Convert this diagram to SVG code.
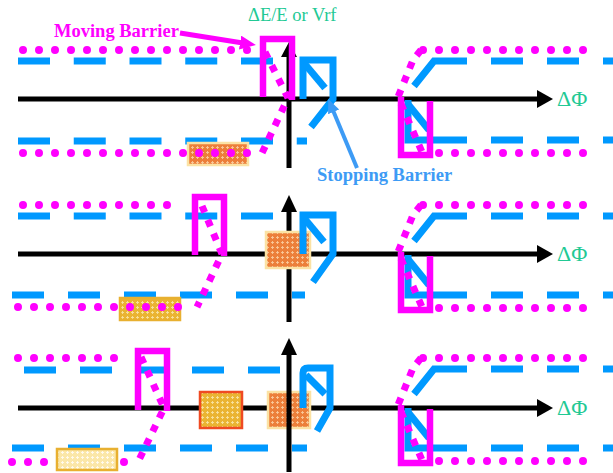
<svg xmlns="http://www.w3.org/2000/svg" width="613" height="473" viewBox="0 0 613 473">
  <defs>
    <style>
      .axis { stroke: #000; stroke-width: 5; fill: none; }
      .head { fill: #000; }
      .dots { stroke: #ff00ff; stroke-width: 8; stroke-linecap: round; stroke-dasharray: 0 16; fill: none; }
      .sep { stroke: #ff00ff; stroke-width: 7; stroke-dasharray: 7 8; fill: none; }
      .gate { stroke: #ff00ff; stroke-width: 6.5; fill: none; stroke-linejoin: miter; }
      .dash { stroke: #0099ff; stroke-width: 7; stroke-dasharray: 32 24; fill: none; }
      .dashA { stroke: #0099ff; stroke-width: 7; stroke-dasharray: 32 23.75; fill: none; }
      .stop { stroke: #0099ff; stroke-width: 7; fill: none; stroke-linejoin: miter; }
      .lbl { font-family: "Liberation Serif", "Times New Roman", serif; }
      .green { fill: #22c994; }
      .bunchO { fill: url(#hatchOrange); stroke: #fbe2a4; stroke-width: 2.5; }
      .bunchY { fill: url(#hatchYellow); stroke: #e8b030; stroke-width: 2.5; }
      .bunchP { fill: url(#hatchPale); stroke: #e8b030; stroke-width: 2.5; }
      .bunchR { fill: url(#hatchYellow); stroke: #ef4a22; stroke-width: 2.5; }
    </style>
    <pattern id="hatchOrange" width="5" height="5" patternUnits="userSpaceOnUse">
      <rect width="5" height="5" fill="#ec7f3a"/>
      <path d="M2.5 1V4M1 2.5H4" stroke="#f9c89a" stroke-width="0.9"/>
    </pattern>
    <pattern id="hatchYellow" width="5" height="5" patternUnits="userSpaceOnUse">
      <rect width="5" height="5" fill="#eab432"/>
      <path d="M2.5 1V4M1 2.5H4" stroke="#f8e2a0" stroke-width="0.9"/>
    </pattern>
    <pattern id="hatchPale" width="5" height="5" patternUnits="userSpaceOnUse">
      <rect width="5" height="5" fill="#fbe7a8"/>
      <path d="M2.5 1V4M1 2.5H4" stroke="#fffaf0" stroke-width="0.9"/>
    </pattern>
    <marker id="headMagenta" markerUnits="userSpaceOnUse" markerWidth="17" markerHeight="15" refX="6" refY="7" orient="auto">
      <path d="M0,0 L16,7 L0,14 z" fill="#ff00ff"/>
    </marker>
    <marker id="headBlue" markerUnits="userSpaceOnUse" markerWidth="15" markerHeight="13" refX="5" refY="6" orient="auto">
      <path d="M0,0 L14,6 L0,12 z" fill="#3d9bf5"/>
    </marker>
  </defs>

  <!-- Panel 1 -->
  <g id="panel1">
    <g id="p1-beam-left">
      <line class="dashA" x1="18" y1="61" x2="273" y2="61"/>
      <line class="dashA" x1="18" y1="141" x2="307" y2="141"/>
    </g>
    <g id="p1-axes">
      <line class="axis" x1="18" y1="99" x2="540" y2="99"/>
      <polygon class="head" points="537,90 553,99 537,108"/>
      <line class="axis" x1="289" y1="55" x2="289" y2="168"/>
      <polygon class="head" points="281,57 289,42 297,57"/>
    </g>
    <g id="p1-bunch">
      <rect class="bunchO" x="188" y="143" width="60" height="22"/>
    </g>
    <g id="p1-moving-barrier">
      <line class="dots" x1="23" y1="50" x2="263" y2="50"/>
      <line class="dots" x1="23" y1="153" x2="263" y2="153"/>
      <path class="sep" d="M265,52 L288,98 L262,153"/>
      <path class="gate" d="M263,97 V39 H292 V100"/>
    </g>
    <g id="p1-stopping-barrier">
      <path class="stop" d="M303,99 V60 H333 V99 L311,127"/>
      <line class="stop" x1="304" y1="63" x2="325" y2="88"/>
    </g>
  </g>

  <!-- Panel 2 -->
  <g id="panel2">
    <g id="p2-beam-left">
      <line class="dashA" x1="18" y1="216" x2="273" y2="216"/>
      <line class="dash" x1="12" y1="295" x2="305" y2="295"/>
    </g>
    <g id="p2-axes">
      <line class="axis" x1="18" y1="254" x2="540" y2="254"/>
      <polygon class="head" points="537,245 553,254 537,263"/>
      <line class="axis" x1="289" y1="210" x2="289" y2="322"/>
      <polygon class="head" points="281,212 289,195 297,212"/>
    </g>
    <g id="p2-bunch-moving">
      <rect class="bunchY" x="120" y="298" width="60" height="22"/>
    </g>
    <g id="p2-bunch-stopped">
      <rect class="bunchO" x="266" y="232" width="44" height="36"/>
    </g>
    <g id="p2-moving-barrier">
      <line class="dots" x1="23" y1="205" x2="183" y2="205"/>
      <line class="dots" x1="18" y1="307" x2="194" y2="307"/>
      <path class="sep" d="M202,206 L222,254 L197,307"/>
      <path class="gate" d="M195,255 V197 H224 V256"/>
    </g>
    <g id="p2-stopping-barrier">
      <path class="stop" d="M303,254 V215 H333 V254 L313,282"/>
      <line class="stop" x1="304" y1="218" x2="324" y2="242"/>
    </g>
  </g>

  <!-- Panel 3 -->
  <g id="panel3">
    <g id="p3-beam-left">
      <line class="dash" x1="24" y1="370" x2="280" y2="370"/>
      <line class="dash" x1="12" y1="448" x2="307" y2="448"/>
    </g>
    <g id="p3-axis-h">
      <line class="axis" x1="18" y1="408" x2="540" y2="408"/>
      <polygon class="head" points="537,399 553,408 537,417"/>
    </g>
    <g id="p3-bunch-merged">
      <rect class="bunchR" x="200" y="392" width="42" height="36"/>
    </g>
    <g id="p3-bunch-stopped">
      <rect class="bunchO" x="268" y="392" width="42" height="36"/>
    </g>
    <g id="p3-axis-v">
      <line class="axis" x1="289" y1="353" x2="289" y2="472"/>
      <polygon class="head" points="281,355 289,338 297,355"/>
    </g>
    <g id="p3-moving-barrier">
      <line class="dots" x1="18" y1="358" x2="130" y2="358"/>
      <line class="dots" x1="12" y1="462" x2="140" y2="462"/>
      <g id="p3-bunch-moving">
        <rect class="bunchP" x="57" y="449" width="60" height="21"/>
      </g>
      <path class="sep" d="M141,357 L164,408 L138,462"/>
      <path class="gate" d="M138,410 V351 H167 V411"/>
    </g>
    <g id="p3-stopping-barrier">
      <path class="stop" d="M303,408 V373 Q303,368 308,368 H330 V408 L317,431"/>
      <line class="stop" x1="306" y1="375" x2="325" y2="394"/>
    </g>
  </g>

  <!-- Right-hand barrier, repeated in each panel -->
  <g id="right-barrier">
    <g id="rb1">
      <path class="stop" d="M414,86 L434,61 H467"/>
      <line class="dash" x1="491" y1="61" x2="620" y2="61"/>
      <path class="stop" d="M408,100 V140 H467"/>
      <line class="stop" x1="407" y1="103" x2="429" y2="130"/>
      <line class="dash" x1="491" y1="140" x2="620" y2="140"/>
      <line class="dots" x1="423" y1="50" x2="599" y2="50"/>
      <line class="dots" x1="439" y1="153" x2="599" y2="153"/>
      <path class="sep" d="M421,50 L413,60 L398,97 L422,152"/>
      <path class="gate" d="M401,97 V155 H430 V101"/>
    </g>
    <use id="rb2" href="#rb1" transform="translate(0,155)"/>
    <use id="rb3" href="#rb1" transform="translate(0,308)"/>
  </g>

  <!-- Labels -->
  <g id="labels" class="lbl">
    <text class="green" x="248" y="21" font-size="18.5">ΔE/E or Vrf</text>
    <text x="54" y="37" font-size="18.5" font-weight="bold" fill="#ff00ff">Moving Barrier</text>
    <text x="317" y="181" font-size="18.5" font-weight="bold" fill="#3d9bf5">Stopping Barrier</text>
    <text class="green" x="557" y="106" font-size="22">ΔΦ</text>
    <text class="green" x="557" y="261" font-size="22">ΔΦ</text>
    <text class="green" x="557" y="415" font-size="22">ΔΦ</text>
  </g>

  <!-- Label pointers -->
  <g id="connectors">
    <line x1="180" y1="33" x2="246" y2="43.5" stroke="#ff00ff" stroke-width="5" marker-end="url(#headMagenta)"/>
    <line x1="357" y1="168" x2="331.7" y2="107.3" stroke="#3d9bf5" stroke-width="4" marker-end="url(#headBlue)"/>
  </g>
</svg>
